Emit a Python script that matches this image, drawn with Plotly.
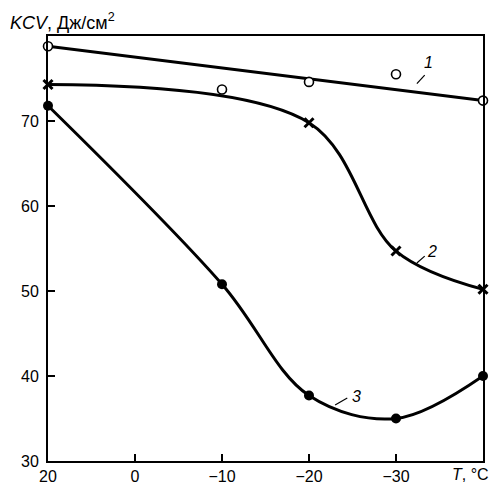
import plotly.graph_objects as go

# Data
temps = ["20", "0", "−10", "−20", "−30", "−40"]
tick_labels = ["20", "0", "−10", "−20", "−30"]
x_pos = [0, 1, 2, 3, 4, 5]

s1_idx = [0, 2, 3, 4, 5]
s1_vals = [78.8, 73.7, 74.6, 75.5, 72.4]

s2_idx = [0, 3, 4, 5]
s2_vals = [74.3, 69.8, 54.7, 50.2]

s3_idx = [0, 2, 3, 4, 5]
s3_vals = [71.8, 50.8, 37.7, 35.0, 40.0]

fig = go.Figure()

# series 1: straight trend line between ends + scattered markers
fig.add_trace(go.Scatter(x=[s1_idx[0], s1_idx[-1]], y=[s1_vals[0], s1_vals[-1]],
                         mode="lines", line=dict(color="black", width=3),
                         showlegend=False, cliponaxis=False))
fig.add_trace(go.Scatter(x=s1_idx, y=s1_vals, mode="markers",
                         marker=dict(symbol="circle", size=9, color="white",
                                     line=dict(color="black", width=1.6)),
                         showlegend=False, cliponaxis=False))
# series 2
fig.add_trace(go.Scatter(x=s2_idx, y=s2_vals, mode="lines+markers",
                         line=dict(color="black", width=3, shape="spline", smoothing=1.0),
                         marker=dict(symbol="x-thin", size=9,
                                     line=dict(color="black", width=3)),
                         showlegend=False, cliponaxis=False))
# series 3
fig.add_trace(go.Scatter(x=s3_idx, y=s3_vals, mode="lines+markers",
                         line=dict(color="black", width=3, shape="spline", smoothing=1.0),
                         marker=dict(symbol="circle", size=10, color="black"),
                         showlegend=False, cliponaxis=False))

font = dict(family="Liberation Sans, Arial, sans-serif", size=16, color="black")
title_font = dict(family="Liberation Sans, Arial, sans-serif", size=18, color="black")

annotations = [
    dict(x=4.37, y=76.9, text="<i>1</i>", showarrow=False, xref="x", yref="y", font=font),
    dict(x=4.41, y=54.7, text="<i>2</i>", showarrow=False, xref="x", yref="y", font=font),
    dict(x=3.55, y=37.6, text="<i>3</i>", showarrow=False, xref="x", yref="y", font=font),
    dict(x=0, y=1.0, xref="paper", yref="paper", xanchor="left", yanchor="bottom",
         text="<i>KCV</i>, Дж/см<sup>2</sup>", showarrow=False, font=title_font, yshift=1,
         xshift=-40),
    dict(x=5, y=0, xref="x", yref="paper", xanchor="right", yanchor="top",
         text="<i>T</i>, °C", showarrow=False, font=font, xshift=8, yshift=-3),
]

shapes = [
    dict(type="line", x0=4.24, y0=74.4, x1=4.33, y1=75.4, line=dict(color="black", width=1.2)),
    dict(type="line", x0=4.24, y0=53.3, x1=4.33, y1=54.1, line=dict(color="black", width=1.2)),
    dict(type="line", x0=3.30, y0=36.6, x1=3.44, y1=37.4, line=dict(color="black", width=1.2)),
]

fig.update_layout(
    width=492, height=486,
    margin=dict(l=48, r=9, t=36, b=25, autoexpand=False),
    plot_bgcolor="white", paper_bgcolor="white",
    font=font,
    annotations=annotations,
    shapes=shapes,
    xaxis=dict(range=[0, 5], tickvals=x_pos[:5], ticktext=tick_labels,
               showgrid=False, zeroline=False, showline=True, linecolor="black",
               linewidth=2, mirror=True, ticks="inside", ticklen=7, tickwidth=1.5,
               tickcolor="black", tickfont=font, automargin=False),
    yaxis=dict(range=[30, 80], tickvals=[30, 40, 50, 60, 70],
               showgrid=False, zeroline=False, showline=True, linecolor="black",
               linewidth=2, mirror=True, ticks="inside", ticklen=7, tickwidth=1.5,
               tickcolor="black", tickfont=font, automargin=False,
               ticklabelstandoff=4),
)

fig.write_html("out.html", config={"displayModeBar": False},
               post_script="document.body.style.margin='0';document.body.style.overflow='hidden';")
